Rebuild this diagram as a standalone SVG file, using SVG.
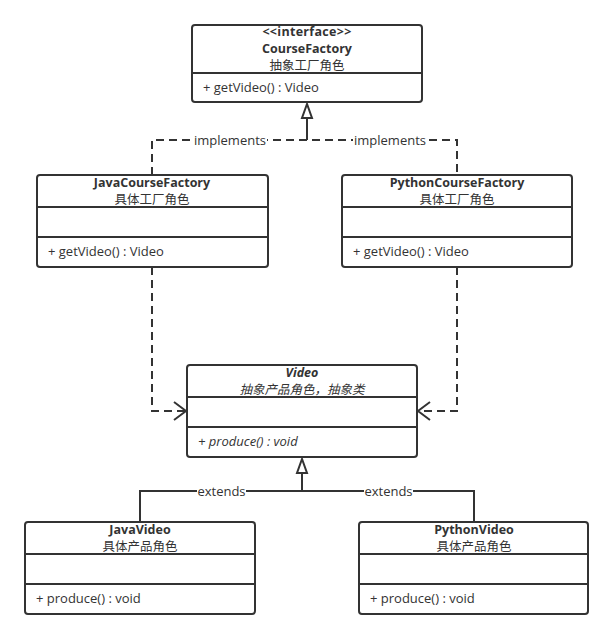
<svg xmlns="http://www.w3.org/2000/svg" width="607" height="641" viewBox="0 0 607 641">
<defs>
<style>
.box{fill:#fff;stroke:#333;stroke-width:2}
.div{stroke:#333;stroke-width:2}
text{font-family:"Open Sans","Noto Sans CJK SC",sans-serif;font-size:13px;fill:#333}
.c{text-anchor:middle}
.h{font-size:12.5px}
.b{font-weight:bold}
.i{font-style:italic}
.ln{fill:none;stroke:#333;stroke-width:2}
.dash{stroke-dasharray:8 5}
.lbl{text-anchor:middle;font-size:13px}
.lblbg{fill:#fff}
</style>
</defs>
<rect width="607" height="641" fill="#fff"/>
<g id="connectors">
<polyline class="ln dash" points="152,175 152,140 457,140 457,175"/>
<line class="ln" x1="307" y1="118" x2="307" y2="140"/>
<polygon class="ln" points="307,104 302,118 312,118" style="fill:#fff"/>
<rect class="lblbg" x="193" y="132" width="74" height="16"/>
<text class="lbl" x="230" y="145">implements</text>
<rect class="lblbg" x="353" y="132" width="74" height="16"/>
<text class="lbl" x="390" y="145">implements</text>
<polyline class="ln dash" points="152,267 152,411 185,411"/>
<polyline class="ln" points="174,402 186,411 174,420"/>
<polyline class="ln dash" points="457,267 457,411 419,411"/>
<polyline class="ln" points="430,402 418,411 430,420"/>
<polyline class="ln" points="140,522 140,491 474,491 474,522"/>
<line class="ln" x1="302" y1="473" x2="302" y2="491"/>
<polygon class="ln" points="302,459 297,473 307,473" style="fill:#fff"/>
<rect class="lblbg" x="197" y="483" width="49" height="16"/>
<text class="lbl" x="221.5" y="496">extends</text>
<rect class="lblbg" x="364" y="483" width="49" height="16"/>
<text class="lbl" x="388.5" y="496">extends</text>
</g>
<g id="CourseFactory">
<rect class="box" x="192" y="25" width="230" height="77" rx="3"/>
<line class="div" x1="192" y1="73" x2="422" y2="73"/>
<text class="c b h" x="307" y="36" letter-spacing="0.3">&lt;&lt;interface&gt;&gt;</text>
<text class="c b h" x="307" y="53">CourseFactory</text>
<text class="c h" x="307" y="70">抽象工厂角色</text>
<text x="203" y="92">+ getVideo() : Video</text>
</g>
<g id="JavaCourseFactory">
<rect class="box" x="37" y="175" width="231" height="92" rx="3"/>
<line class="div" x1="37" y1="207" x2="268" y2="207"/>
<line class="div" x1="37" y1="237" x2="268" y2="237"/>
<text class="c b h" x="152" y="187">JavaCourseFactory</text>
<text class="c h" x="152" y="204">具体工厂角色</text>
<text x="48" y="256">+ getVideo() : Video</text>
</g>
<g id="PythonCourseFactory">
<rect class="box" x="342" y="175" width="230" height="92" rx="3"/>
<line class="div" x1="342" y1="207" x2="572" y2="207"/>
<line class="div" x1="342" y1="237" x2="572" y2="237"/>
<text class="c b h" x="457" y="187">PythonCourseFactory</text>
<text class="c h" x="457" y="204">具体工厂角色</text>
<text x="353" y="256">+ getVideo() : Video</text>
</g>
<g id="Video">
<rect class="box" x="187" y="365" width="230" height="92" rx="3"/>
<line class="div" x1="187" y1="397" x2="417" y2="397"/>
<line class="div" x1="187" y1="427" x2="417" y2="427"/>
<text class="c b i h" x="302" y="377">Video</text>
<text class="c i h" x="302" y="394">抽象产品角色，抽象类</text>
<text class="i" x="198" y="446">+ produce() : void</text>
</g>
<g id="JavaVideo">
<rect class="box" x="25" y="522" width="230" height="92" rx="3"/>
<line class="div" x1="25" y1="554" x2="255" y2="554"/>
<line class="div" x1="25" y1="584" x2="255" y2="584"/>
<text class="c b h" x="140" y="534">JavaVideo</text>
<text class="c h" x="140" y="551">具体产品角色</text>
<text x="36" y="603">+ produce() : void</text>
</g>
<g id="PythonVideo">
<rect class="box" x="359" y="522" width="229" height="92" rx="3"/>
<line class="div" x1="359" y1="554" x2="588" y2="554"/>
<line class="div" x1="359" y1="584" x2="588" y2="584"/>
<text class="c b h" x="474" y="534">PythonVideo</text>
<text class="c h" x="474" y="551">具体产品角色</text>
<text x="370" y="603">+ produce() : void</text>
</g>
</svg>
